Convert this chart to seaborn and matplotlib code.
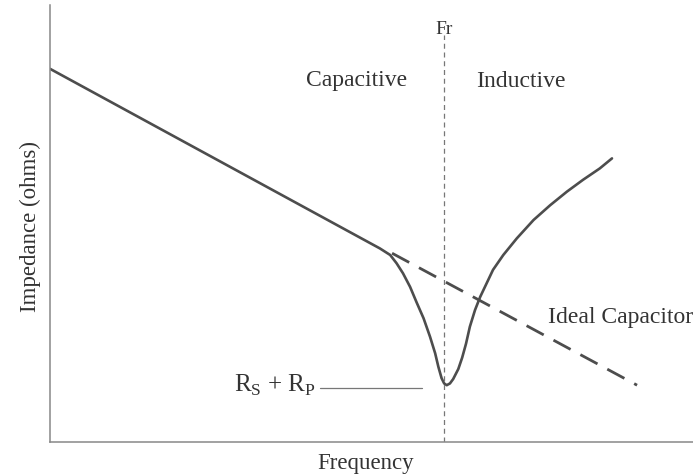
import matplotlib
matplotlib.use("Agg")
import matplotlib.pyplot as plt
import seaborn as sns
import pandas as pd

# ---- data (arbitrary units: frequency 0-100, impedance 0-100) ----
real_freq = [0.0, 49.8, 51.3, 52.9, 53.9, 54.9, 56.0, 57.0, 58.1, 59.1, 59.9,
             60.4, 60.9, 61.3, 61.7, 62.2, 62.7, 63.5, 64.1, 64.7, 65.3, 66.1,
             66.9, 67.9, 68.9, 70.5, 72.6, 75.2, 77.8, 80.4, 82.9, 85.5, 87.4]
real_imp = [85.4, 45.5, 44.3, 42.8, 40.9, 38.6, 35.5, 32.0, 28.3, 24.1, 20.3,
            17.2, 14.6, 13.4, 13.0, 13.4, 14.4, 16.7, 19.3, 22.5, 26.4, 30.2,
            33.2, 36.3, 39.4, 42.8, 46.6, 50.8, 54.2, 57.3, 60.0, 62.6, 64.9]
ideal_freq = [53.2, 91.3]
ideal_imp = [43.2, 13.0]
fr_freq = 61.3
fr_imp = [0.0, 93.1]
rsrp_freq = [42.0, 57.9]
rsrp_imp = 12.4

sns.set_theme(style="white")
plt.rcParams["font.family"] = ["Liberation Serif", "DejaVu Serif"]

fig = plt.figure(figsize=(6.93, 4.76), dpi=100)
W, H = 693, 476
ax = fig.add_axes([50 / W, (H - 442) / H, (W - 50) / W, 437 / H])

line_col = "#4d4d4d"
real_df = pd.DataFrame({"Frequency": real_freq, "Impedance": real_imp})
ideal_df = pd.DataFrame({"Frequency": ideal_freq, "Impedance": ideal_imp})

sns.lineplot(data=real_df, x="Frequency", y="Impedance", ax=ax, sort=False,
             color=line_col, linewidth=1.9)
ax.lines[-1].set_solid_joinstyle("round")
sns.lineplot(data=ideal_df, x="Frequency", y="Impedance", ax=ax, sort=False,
             color=line_col, linewidth=2.0)
ax.lines[-1].set_dashes([7, 4])

ax.plot([fr_freq, fr_freq], fr_imp, color="#777777", linewidth=0.9,
        dashes=[4, 3])
ax.plot(rsrp_freq, [rsrp_imp, rsrp_imp], color="#777777", linewidth=0.9)

ax.set_xlim(0, 100)
ax.set_ylim(0, 100)
ax.set_xticks([])
ax.set_yticks([])
ax.set_xlabel("")
ax.set_ylabel("")
for s in ["top", "right"]:
    ax.spines[s].set_visible(False)
for s in ["left", "bottom"]:
    ax.spines[s].set_color("#888888")
    ax.spines[s].set_linewidth(1.1)

txt_col = "#333333"
ax.text(fr_freq, 94.3, "Fr", ha="center", va="center", fontsize=14, color=txt_col)
ax.text(47.7, 82.8, "Capacitive", ha="center", va="center", fontsize=17, color=txt_col)
ax.text(73.3, 82.4, "Inductive", ha="center", va="center", fontsize=17, color=txt_col)
ax.text(77.4, 28.6, "Ideal Capacitor", ha="left", va="center", fontsize=17,
        color=txt_col, clip_on=False)
ax.text(41.4, 13.0, r"R$_\mathregular{S}$ + R$_\mathregular{P}$", ha="right",
        va="center", fontsize=18, color=txt_col)

fig.text(366 / W, 1 - 463 / H, "Frequency", ha="center", va="center",
         fontsize=16.5, color=txt_col)
fig.text(30 / W, 1 - 227 / H, "Impedance (ohms)", ha="center", va="center",
         rotation=90, fontsize=16.5, color=txt_col)

fig.savefig("out.png", dpi=100, facecolor="white")
